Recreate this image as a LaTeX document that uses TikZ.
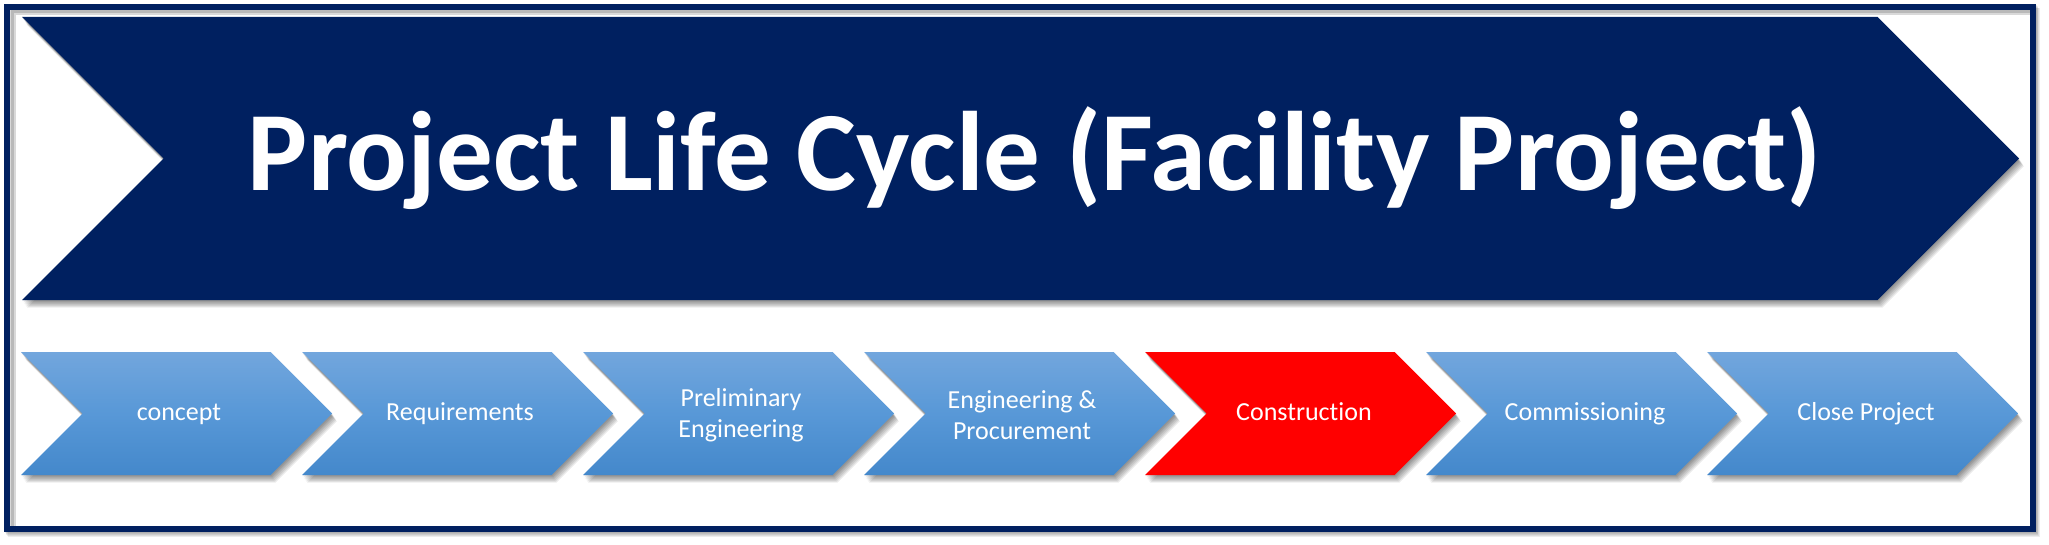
\documentclass[tikz,border=0pt]{standalone}
\usepackage{fontspec}
\setmainfont{Carlito}[Ligatures=NoCommon]
\definecolor{navy}{RGB}{0,32,96}
\definecolor{ctop}{RGB}{114,166,221}
\definecolor{cmid}{RGB}{88,152,215}
\definecolor{cbot}{RGB}{68,136,203}
\definecolor{redc}{RGB}{255,0,0}
% #1 left x, #2 top y, #3 bottom y, #4 width left->tip
\newcommand\chevshape[4]{(#1,#2) -- ({#1+#4-(#3-#2)/2},#2) -- ({#1+#4},{(#2+#3)/2}) -- ({#1+#4-(#3-#2)/2},#3) -- (#1,#3) -- ({#1+(#3-#2)/2},{(#2+#3)/2}) -- cycle}
\newcommand\softshadow[4]{%
  \foreach \s in {1,2,...,7}{\fill[black,opacity=0.075,shift={({0.7*\s},{1.1*\s})}] \chevshape{#1}{#2}{#3}{#4};}}
\begin{document}
\begin{tikzpicture}[x=1pt,y=-1pt,
  lbl/.style={text=white,font=\fontsize{26}{31}\selectfont,inner sep=0pt,align=center},
  ttl/.style={text=white,font=\fontsize{113}{120}\selectfont\bfseries,inner sep=0pt}]
\useasboundingbox (0,0) rectangle (2049,545);
\fill[white] (0,0) rectangle (2049,545);
% frame shadow
\foreach \s in {1,2,...,5}{\draw[black,opacity=0.07,line width=6pt,shift={({0.8*\s},{0.9*\s})}] (7,7) rectangle (2033,529);}
\fill[white] (10,10) rectangle (2030,526);
% inner grey line
\draw[gray!30,line width=6pt] (12.5,526) -- (12.5,12.5) -- (2030,12.5);
\draw[gray!55,line width=3pt] (12,526) -- (12,12) -- (2030,12);
\draw[navy,line width=6pt] (7,7) rectangle (2033,529);
% big chevron
\softshadow{22}{17}{300}{1997}
\fill[navy] \chevshape{22}{17}{300}{1997};
\node[ttl,anchor=base] (title) at (1035,191) {Project Life Cycle (Facility Project)};
% small chevrons
\foreach \i in {0,...,6}{
  \pgfmathsetmacro\L{21+281*\i}
  \softshadow{\L}{352}{475}{311}
}
\foreach \i in {0,1,2,3,5,6}{
  \pgfmathsetmacro\L{21+281*\i}
  \shade[top color=ctop,bottom color=cbot,middle color=cmid] \chevshape{\L}{352}{475}{311};
}
\fill[redc] \chevshape{1145}{352}{475}{311};
\node[lbl,anchor=base] (c1) at (179,420.7) {concept};
\node[lbl,anchor=base] (c2) at (460,420.7) {Requirements};
\node[lbl] (c3) at (741,415) {Preliminary\\Engineering};
\node[lbl] (c4) at (1022,415) {Engineering \&\\Procurement};
\node[lbl,anchor=base] (c5) at (1304,420.7) {Construction};
\node[lbl,anchor=base] (c6) at (1585,420.7) {Commissioning};
\node[lbl,anchor=base] (c7) at (1866,420.7) {Close Project};
\end{tikzpicture}
\end{document}
